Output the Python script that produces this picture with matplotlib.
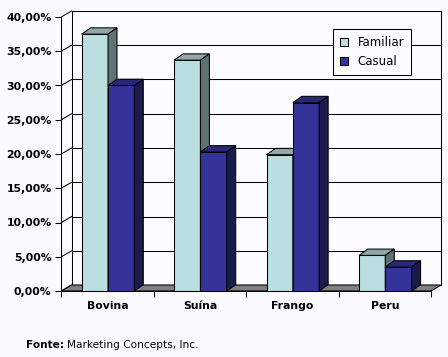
import matplotlib
matplotlib.use("Agg")
import matplotlib.pyplot as plt
from matplotlib.patches import Polygon
import numpy as np

categories = ["Bovina", "Suína", "Frango", "Peru"]
familiar = [37.5, 33.7, 19.9, 5.2]
casual = [30.0, 20.3, 27.5, 3.5]
series_names = ["Familiar", "Casual"]
yticks = [0, 5, 10, 15, 20, 25, 30, 35, 40]
ytick_labels = ["0,00%", "5,00%", "10,00%", "15,00%", "20,00%", "25,00%", "30,00%", "35,00%", "40,00%"]

W, H = 448, 357
fig = plt.figure(figsize=(W / 100, H / 100), dpi=100)
bg = "#FBFAFE"
fig.patch.set_facecolor(bg)

x0, x1 = 61.3, 431.0
y0, y1 = 291.0, 17.0
ax = fig.add_axes([x0 / W, 1 - y0 / H, (x1 - x0) / W, (y0 - y1) / H])
ax.set_xlim(0, 4)
ax.set_ylim(0, 40)
ax.set_facecolor("none")
for s in ax.spines.values():
    s.set_visible(False)

pxx = 4 / (x1 - x0)      # data per px in x
pxy = 40 / (y0 - y1)     # data per px in y
wdx, wdy = 10.3 * pxx, 6.0 * pxy   # wall depth
bdx, bdy = 9.0 * pxx, 6.3 * pxy    # bar depth
LW = 0.75

# back wall
wall = Polygon([(wdx, wdy), (4 + wdx, wdy), (4 + wdx, 40 + wdy), (wdx, 40 + wdy)],
               closed=True, facecolor="#FCFBFF", edgecolor="black", lw=LW, clip_on=False, zorder=0)
ax.add_patch(wall)
ax.add_patch(Polygon([(0, 0), (wdx, wdy), (wdx, 40 + wdy), (0, 40)], closed=True,
                     facecolor="#FCFBFF", edgecolor="none", clip_on=False, zorder=0))
# gridlines on back wall + diagonal tick connectors
for t in yticks:
    ax.plot([wdx, 4 + wdx], [t + wdy, t + wdy], color="black", lw=LW, clip_on=False, zorder=1)
    ax.plot([0, wdx], [t, t + wdy], color="black", lw=LW, clip_on=False, zorder=1)
# floor
floor = Polygon([(0, 0), (4, 0), (4 + wdx, wdy), (wdx, wdy)], closed=True,
                facecolor="#808080", edgecolor="black", lw=LW, clip_on=False, zorder=2)
ax.add_patch(floor)

ax.plot([0, 0], [0, 40], color="black", lw=LW, clip_on=False, zorder=5)
ax.plot([0, 4], [0, 0], color="black", lw=LW, clip_on=False, zorder=5)

cols = {
    "Familiar": ("#BADEE0", "#8FA7A8", "#5E7374"),
    "Casual": ("#333399", "#28287A", "#1A1A4D"),
}
bw = 26.3 * pxx
start = 20.4 * pxx
xc = np.arange(len(categories))
for i, (name, vals) in enumerate(zip(series_names, [familiar, casual])):
    front, top, side = cols[name]
    lefts = xc + start + i * bw
    ax.bar(lefts, vals, width=bw, align="edge", color=front, edgecolor="black",
           lw=LW, zorder=4 + i * 0.1, label=name, clip_on=False)
    for l, v in zip(lefts, vals):
        ax.add_patch(Polygon([(l, v), (l + bw, v), (l + bw + bdx, v + bdy), (l + bdx, v + bdy)],
                             closed=True, facecolor=top, edgecolor="black", lw=LW,
                             zorder=4 + i * 0.1, clip_on=False))
        ax.add_patch(Polygon([(l + bw, 0), (l + bw + bdx, bdy), (l + bw + bdx, v + bdy), (l + bw, v)],
                             closed=True, facecolor=side, edgecolor="black", lw=LW,
                             zorder=4 + i * 0.1, clip_on=False))

ax.set_yticks(yticks)
ax.set_yticklabels(ytick_labels, fontsize=7.8, fontweight="bold")
ax.set_xticks(np.arange(0, 5))
ax.set_xticklabels([])
ax.set_xticks(xc + 0.5, minor=True)
ax.set_xticklabels(categories, minor=True, fontsize=7.8, fontweight="bold")
ax.tick_params(axis="x", which="minor", length=0, pad=7)
ax.tick_params(axis="x", which="major", length=4, width=LW, direction="out")
ax.tick_params(axis="y", length=4, width=LW, pad=3)

leg = ax.legend(loc="upper left", bbox_to_anchor=((333.3 - x0) / (x1 - x0), 1 - (29.3 - y1) / (y0 - y1)),
                fontsize=8.5, frameon=True, fancybox=False, edgecolor="black", framealpha=1,
                handlelength=0.7, handleheight=0.7, handletextpad=0.8, borderpad=0.55,
                labelspacing=0.55, borderaxespad=0)
leg.get_frame().set_linewidth(LW)
leg.get_frame().set_facecolor("#FCFBFF")

fig.text(26 / W, 1 - 345 / H, "Fonte:", fontsize=7.6, fontweight="bold", va="center", ha="left")
fig.text(67 / W, 1 - 345 / H, "Marketing Concepts, Inc.", fontsize=7.6, va="center", ha="left")

fig.savefig("out.png", dpi=100, facecolor=bg)
